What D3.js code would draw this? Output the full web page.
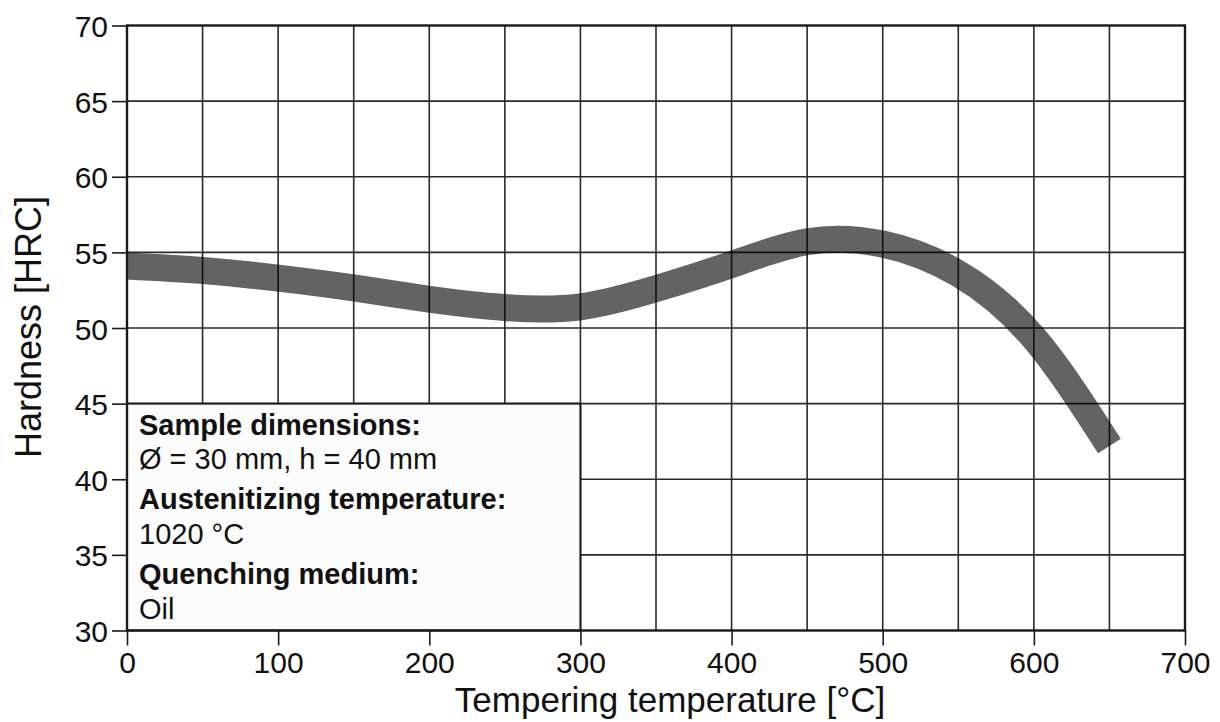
<!DOCTYPE html>
<html>
<head>
<meta charset="utf-8">
<script src="https://cdn.jsdelivr.net/npm/d3@7"></script>
<style>
  html, body { margin: 0; padding: 0; background: #fff; }
  svg { display: block; }
  text { font-family: "Liberation Sans", Arial, Helvetica, sans-serif; fill: #111; }
</style>
</head>
<body>
<svg id="chart" width="1220" height="722"></svg>
<script>
// ---- data ----
const temps    = [0, 50, 100, 150, 200, 250, 300, 350, 400, 450, 500, 550, 600, 650];
const hardness = [54.1, 53.8, 53.3, 52.65, 51.9, 51.35, 51.4, 52.6, 54.2, 55.7, 55.55, 53.6, 49.35, 42.2];
const xTicks = [0, 100, 200, 300, 400, 500, 600, 700];
const yTicks = [30, 35, 40, 45, 50, 55, 60, 65, 70];
const xGrid = [50, 100, 150, 200, 250, 300, 350, 400, 450, 500, 550, 600, 650];
const yGrid = [35, 40, 45, 50, 55, 60, 65];
const infoLines = [
  {text: "Sample dimensions:", bold: true},
  {text: "Ø = 30 mm, h = 40 mm", bold: false},
  {text: "Austenitizing temperature:", bold: true},
  {text: "1020 °C", bold: false},
  {text: "Quenching medium:", bold: true},
  {text: "Oil", bold: false}
];
const infoBox = {x0: 0, x1: 300, y0: 30, y1: 45};
const xTitle = "Tempering temperature [°C]";
const yTitle = "Hardness [HRC]";

// ---- layout ----
const L = 127, R = 1185, T = 25.5, B = 630.5;
const x = d3.scaleLinear().domain([0, 700]).range([L, R]);
const y = d3.scaleLinear().domain([30, 70]).range([B, T]);
const svg = d3.select("#chart");

// grid
svg.append("g").selectAll("line").data(xGrid).join("line")
  .attr("x1", d => x(d)).attr("x2", d => x(d)).attr("y1", T).attr("y2", B)
  .attr("stroke", "#2a2a2a").attr("stroke-width", 1.6);
svg.append("g").selectAll("line").data(yGrid).join("line")
  .attr("x1", L).attr("x2", R).attr("y1", d => y(d)).attr("y2", d => y(d))
  .attr("stroke", "#2a2a2a").attr("stroke-width", 1.6);

// info box
svg.append("rect")
  .attr("x", x(infoBox.x0)).attr("y", y(infoBox.y1))
  .attr("width", x(infoBox.x1) - x(infoBox.x0)).attr("height", y(infoBox.y0) - y(infoBox.y1))
  .attr("fill", "#fcfcfc").attr("stroke", "#1a1a1a").attr("stroke-width", 2);

const baselines = [435, 468.5, 508.5, 543.5, 583.5, 618.5];
svg.append("g").selectAll("text").data(infoLines).join("text")
  .attr("x", 139).attr("y", (d, i) => baselines[i])
  .attr("font-size", 29)
  .attr("font-weight", d => d.bold ? "bold" : "normal")
  .text(d => d.text);

// band (hardness curve)
const pts = temps.map((t, i) => [t, hardness[i]]);
const line = d3.line().x(d => x(d[0])).y(d => y(d[1])).curve(d3.curveNatural);
svg.append("path").attr("d", line(pts))
  .attr("fill", "none").attr("stroke", "#000").attr("stroke-opacity", 0.61)
  .attr("stroke-width", 27).attr("stroke-linecap", "butt");

// frame
svg.append("rect").attr("x", L).attr("y", T).attr("width", R - L).attr("height", B - T)
  .attr("fill", "none").attr("stroke", "#1a1a1a").attr("stroke-width", 2.4);

// axes
const yAxis = svg.append("g").attr("transform", `translate(${L},0)`)
  .call(d3.axisLeft(y).tickValues(yTicks).tickSize(15).tickPadding(4).tickFormat(d3.format("d")));
const xAxis = svg.append("g").attr("transform", `translate(0,${B})`)
  .call(d3.axisBottom(x).tickValues(xTicks).tickSize(15).tickPadding(6).tickFormat(d3.format("d")));
[yAxis, xAxis].forEach(g => {
  g.select(".domain").remove();
  g.selectAll(".tick line").attr("stroke", "#1a1a1a").attr("stroke-width", 1.6);
  g.selectAll(".tick text").attr("font-size", 30).attr("fill", "#111")
    .attr("font-family", "'Liberation Sans', Arial, sans-serif");
});
yAxis.selectAll(".tick text").attr("dy", "0.37em");

// titles
svg.append("text").attr("x", 670).attr("y", 712).attr("text-anchor", "middle")
  .attr("font-size", 35).text(xTitle);
svg.append("text").attr("transform", "translate(41,327) rotate(-90)")
  .attr("text-anchor", "middle").attr("font-size", 36).text(yTitle);
</script>
</body>
</html>
